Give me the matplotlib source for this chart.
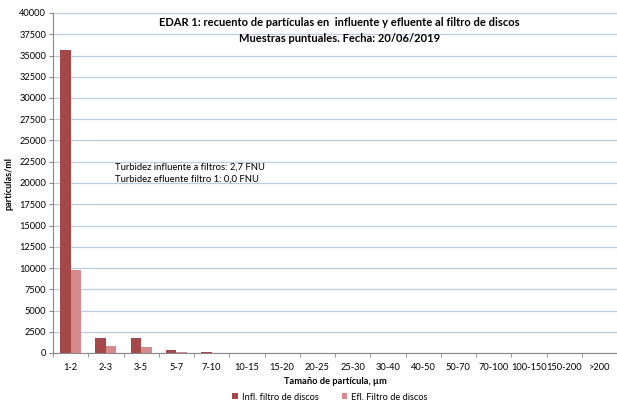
import numpy as np
import matplotlib.pyplot as plt

plt.rcParams['font.family'] = ['Lato', 'DejaVu Sans']

# Particle size classes (um)
categories = ['1-2', '2-3', '3-5', '5-7', '7-10', '10-15', '15-20', '20-25', '25-30',
              '30-40', '40-50', '50-70', '70-100', '100-150', '150-200', '>200']

# particles/ml
infl = [35600, 1750, 1720, 300, 150, 40, 15, 8, 5, 4, 3, 2, 1, 1, 0, 0]
efl = [9800, 850, 700, 120, 40, 15, 6, 3, 2, 1, 1, 1, 0, 0, 0, 0]

fig = plt.figure(figsize=(6.17, 4.05), dpi=100)
ax = fig.add_axes([53/617, 1 - 353/405, (617 - 53)/617, 340/405])

x = np.arange(len(categories))
w = 0.3
ax.bar(x - w/2, infl, w, color='#a5484a', label='Infl. filtro de discos', zorder=3)
ax.bar(x + w/2, efl, w, color='#d4898c', label='Efl. Filtro de discos', zorder=3)

ax.set_xlim(-0.5, len(categories) - 0.5)
ax.set_ylim(0, 40000)
ax.set_yticks(np.arange(0, 40001, 2500))
ax.tick_params(axis='y', labelsize=6.7, length=3, color='#888888', pad=2)
ax.set_xticks(x)
ax.set_xticklabels(categories)
ax.set_xticks(np.arange(-0.5, len(categories), 1), minor=True)
ax.tick_params(axis='x', which='major', length=0, labelsize=6.7, pad=7)
ax.tick_params(axis='x', which='minor', length=3, color='#888888')

ax.grid(axis='y', color='#b9cde8', linewidth=0.9, zorder=0)
for s in ['top', 'right']:
    ax.spines[s].set_visible(False)
ax.spines['left'].set_color('#888888')
ax.spines['bottom'].set_color('#888888')
ax.axhline(40000, color='#7f9fd0', linewidth=1.2, zorder=1)

ax.set_ylabel('partículas/ml', fontsize=6.5, fontweight='bold', labelpad=4)
ax.set_xlabel('Tamaño de partícula, µm', fontsize=6.7, fontweight='bold', labelpad=4)

ax.text(0.508, 0.972, 'EDAR 1: recuento de partículas en  influente y efluente al filtro de discos',
        transform=ax.transAxes, ha='center', va='center', fontsize=8, fontweight='bold')
ax.text(0.508, 0.925, 'Muestras puntuales. Fecha: 20/06/2019',
        transform=ax.transAxes, ha='center', va='center', fontsize=8, fontweight='bold')

ax.text(1.26, 21900, 'Turbidez influente a filtros: 2,7 FNU', fontsize=6.8, va='center')
ax.text(1.26, 20450, 'Turbidez efluente filtro 1: 0,0 FNU', fontsize=6.8, va='center')

fig.legend(loc='center', bbox_to_anchor=(330/617, 1 - 397/405), ncol=2, frameon=False,
           fontsize=6.7, handlelength=0.6, handleheight=0.6, columnspacing=2.5, handletextpad=0.4)

fig.savefig('out.png', dpi=100)
